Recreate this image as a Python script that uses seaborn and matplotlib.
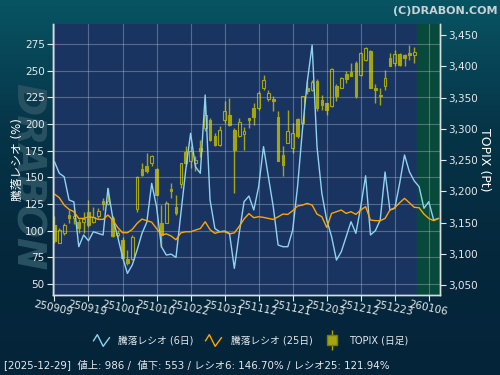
import numpy as np
import pandas as pd
import matplotlib
matplotlib.use("Agg")
import matplotlib.pyplot as plt
import seaborn as sns
from matplotlib.lines import Line2D
from matplotlib.path import Path
from matplotlib.ticker import FuncFormatter
from matplotlib.colors import LinearSegmentedColormap

# x tick labels (every 7 trading days)
tick_labels = ["250909", "250919", "251001", "251010", "251022", "251031",
               "251112", "251121", "251203", "251212", "251223", "260106"]

# TOPIX daily candles (2025-09-09 .. 2025-12-29)
opens = [3146, 3118, 3133, 3162, 3157, 3151, 3151, 3167, 3151, 3161,
         3184, 3179, 3157, 3130, 3122, 3091, 3091, 3171, 3235, 3240,
         3245, 3235, 3149, 3150, 3203, 3175, 3212, 3263, 3249, 3245,
         3269, 3301, 3314, 3289, 3274, 3314, 3323, 3298, 3288, 3292,
         3317, 3333, 3333, 3365, 3348, 3348, 3319, 3258, 3278, 3270,
         3316, 3310, 3365, 3362, 3377, 3346, 3341, 3337, 3368, 3366,
         3388, 3391, 3405, 3387, 3410, 3425, 3366, 3354, 3369, 3413,
         3405, 3420, 3419, 3422, 3419]
highs = [3160, 3141, 3150, 3170, 3170, 3155, 3167, 3186, 3175, 3173,
         3189, 3205, 3160, 3138, 3127, 3106, 3130, 3224, 3245, 3261,
         3258, 3237, 3178, 3184, 3213, 3194, 3245, 3272, 3272, 3256,
         3283, 3338, 3317, 3293, 3304, 3345, 3350, 3301, 3317, 3303,
         3318, 3341, 3360, 3387, 3362, 3352, 3328, 3273, 3330, 3309,
         3317, 3353, 3377, 3378, 3380, 3354, 3342, 3398, 3372, 3383,
         3392, 3405, 3408, 3423, 3431, 3426, 3372, 3365, 3395, 3421,
         3426, 3422, 3420, 3435, 3431]
lows = [3118, 3117, 3130, 3149, 3148, 3133, 3133, 3143, 3149, 3157,
        3170, 3178, 3127, 3127, 3090, 3082, 3090, 3167, 3224, 3229,
        3240, 3194, 3111, 3149, 3189, 3162, 3205, 3240, 3237, 3232,
        3255, 3296, 3280, 3272, 3272, 3309, 3304, 3197, 3287, 3266,
        3301, 3306, 3330, 3362, 3344, 3328, 3248, 3224, 3277, 3262,
        3285, 3309, 3356, 3360, 3329, 3330, 3323, 3335, 3344, 3365,
        3373, 3384, 3349, 3384, 3408, 3366, 3341, 3338, 3362, 3400,
        3400, 3401, 3401, 3411, 3406]
closes = [3120, 3138, 3146, 3158, 3160, 3141, 3156, 3146, 3159, 3168,
          3180, 3185, 3128, 3134, 3093, 3085, 3127, 3223, 3226, 3232,
          3256, 3194, 3130, 3181, 3200, 3166, 3245, 3246, 3264, 3251,
          3265, 3322, 3282, 3274, 3298, 3328, 3307, 3266, 3311, 3296,
          3314, 3319, 3358, 3378, 3357, 3344, 3248, 3243, 3296, 3294,
          3288, 3352, 3361, 3375, 3334, 3338, 3331, 3396, 3353, 3381,
          3380, 3385, 3353, 3421, 3429, 3366, 3362, 3352, 3381, 3401,
          3420, 3403, 3414, 3419, 3423]

# advance/decline ratio, 6 day
ratio6 = [164.7, 153.8, 150.6, 128.8, 127.0, 85.0, 96.0, 90.6, 99.0, 97.5,
          96.0, 139.7, 111.6, 94.4, 75.6, 60.0, 67.8, 81.9, 97.5, 108.0,
          144.4, 122.5, 85.0, 77.2, 78.0, 75.0, 116.0, 156.9, 191.3, 160.0,
          153.8, 227.2, 128.8, 102.0, 99.0, 99.7, 97.5, 64.7, 97.5, 127.2,
          132.5, 119.4, 141.3, 178.8, 150.6, 122.5, 86.6, 85.0, 85.0, 100.6,
          141.3, 194.4, 239.7, 274.0, 178.8, 135.0, 110.0, 94.4, 72.5, 80.3,
          94.4, 108.4, 97.5, 122.5, 151.5, 96.0, 100.0, 110.0, 155.0, 119.4,
          121.0, 144.4, 171.0, 155.3, 146.7, 141.3, 121.0, 127.2, 110.0, 111.6]
# advance/decline ratio, 25 day
ratio25 = [134.4, 130.9, 124.0, 120.0, 117.8, 111.5, 111.5, 113.0, 112.5, 110.6,
           110.6, 114.7, 110.0, 103.1, 98.1, 98.1, 101.2, 106.9, 110.9, 109.4,
           108.0, 102.0, 96.0, 97.0, 95.0, 91.5, 98.0, 99.0, 99.0, 100.6,
           102.0, 108.4, 101.0, 97.5, 99.0, 99.0, 97.0, 98.0, 104.0, 111.0,
           116.0, 112.2, 113.1, 112.5, 111.5, 110.6, 113.0, 115.6, 115.3, 118.7,
           123.1, 124.0, 125.6, 124.0, 115.6, 113.1, 103.1, 116.2, 117.8, 119.4,
           116.2, 117.8, 115.3, 119.4, 122.5, 110.0, 109.4, 109.4, 111.5, 119.4,
           121.5, 126.2, 130.3, 126.2, 121.94, 121.5, 115.6, 111.5, 109.4, 111.5]

status = "[2025-12-29]  値上: 986 /  値下: 553 / レシオ6: 146.70% / レシオ25: 121.94%"

sns.set_style("ticks")
plt.rcParams['font.family'] = ['DejaVu Sans', 'Noto Sans CJK JP']

TXT = "#e6e9ea"
BLUE = "#8fd3f0"
ORANGE = "#ffa500"
OLIVE = "#a5a512"
NAVY = "#1a3461"

fig = plt.figure(figsize=(5, 3.75), dpi=100)

# background gradient
bg = fig.add_axes([0, 0, 1, 1], zorder=-10)
grad = np.linspace(0, 1, 200).reshape(-1, 1)
cmap = LinearSegmentedColormap.from_list("bg", ["#085463", "#063548", "#05283d", "#04243a"])
bg.imshow(grad, aspect="auto", cmap=cmap, extent=[0, 1, 0, 1], origin="upper")
bg.axis("off")

# watermark
fig.text(0.054, 0.53, "DRABON", rotation=270, fontsize=28, fontweight="bold",
         fontstyle="italic", color="#285161", ha="center", va="center", zorder=-5)

ax = fig.add_axes([0.106, 0.2133, 0.774, 0.7227])
ax2 = ax.twinx()
ax.set_zorder(ax2.get_zorder() + 1)
ax.patch.set_visible(False)
ax2.patch.set_visible(True)
ax2.patch.set_facecolor(NAVY)

n_candle = len(opens)
ax2.axvspan(n_candle - 0.5, 85, color="#07493a", zorder=0)

# candles
for i in range(n_candle):
    o, h, l, c = opens[i], highs[i], lows[i], closes[i]
    ax2.vlines(i, l, h, color=OLIVE, lw=1, zorder=2)
    lo, hi = min(o, c), max(o, c)
    height = max(hi - lo, 1.5)
    face = OLIVE if c < o else NAVY
    ax2.bar(i, height, bottom=lo, width=0.55, color=face, edgecolor=OLIVE,
            lw=0.8, zorder=3)

df = pd.DataFrame({"idx": np.arange(len(ratio6)), "r6": ratio6, "r25": ratio25})
sns.lineplot(data=df, x="idx", y="r6", ax=ax, color=BLUE, lw=1)
sns.lineplot(data=df, x="idx", y="r25", ax=ax, color=ORANGE, lw=1)

ax.set_xlim(-0.3, 79.3)
ax.set_ylim(39.7, 293.8)
ax2.set_ylim(3034, 3468)

ax.set_xticks(np.arange(0, 7 * len(tick_labels), 7))
ax.set_xticklabels(tick_labels, rotation=-12, rotation_mode="anchor", ha="center",
                   va="top")
ax.set_yticks(np.arange(50, 276, 25))
ax2.set_yticks(np.arange(3050, 3451, 50))
ax2.yaxis.set_major_formatter(FuncFormatter(lambda v, p: f"{int(v):,}"))

ax.grid(True, color="#c8d0e0", alpha=0.35, lw=0.8)
ax2.grid(False)

for a in (ax, ax2):
    a.tick_params(colors=TXT, labelsize=7.5, length=4, width=0.8, pad=2)
    for s in a.spines.values():
        s.set_color("#d8dde0")
        s.set_linewidth(1)
    a.spines["top"].set_visible(False)
ax.tick_params(axis="x", labelsize=7.5, pad=2)

ax.set_xlabel("")
ax.set_ylabel("騰落レシオ (%)", color="white", fontsize=8.5, va="center")
ax.yaxis.set_label_coords(-0.092, 0.5)
ax2.set_ylabel("TOPIX (Pt)", color="white", fontsize=9, rotation=270, va="center")
ax2.yaxis.set_label_coords(1.116, 0.5)

# legend
zig = Path([(-1, -0.1), (-0.5, 0.7), (0.2, -0.7), (1, 0.4)],
           [Path.MOVETO, Path.LINETO, Path.LINETO, Path.LINETO])
h1 = Line2D([], [], color=BLUE, marker=zig, linestyle="None", markersize=12,
            markerfacecolor="none", markeredgewidth=1)
h2 = Line2D([], [], color=ORANGE, marker=zig, linestyle="None", markersize=12,
            markerfacecolor="none", markeredgewidth=1)
h3a = Line2D([], [], color=OLIVE, marker="|", linestyle="None", markersize=15,
             markeredgewidth=1)
h3b = Line2D([], [], color=OLIVE, marker="s", linestyle="None", markersize=7,
             markerfacecolor=OLIVE, markeredgecolor="#7a7a10")
fig.legend([h1, h2, (h3a, h3b)], ["騰落レシオ (6日)", "騰落レシオ (25日)", "TOPIX (日足)"],
           loc="center", bbox_to_anchor=(0.5, 0.093), ncol=3, frameon=False,
           fontsize=7, labelcolor=TXT, handlelength=2.0, columnspacing=1.0,
           handletextpad=0.8)

fig.text(0.994, 0.985, "(C)DRABON.COM", ha="right", va="top", fontsize=8,
         fontweight="bold", color="#c9d2d4")
fig.text(0.008, 0.028, status, ha="left", va="center", fontsize=7.4, color=TXT)

fig.savefig("out.png", dpi=100)
